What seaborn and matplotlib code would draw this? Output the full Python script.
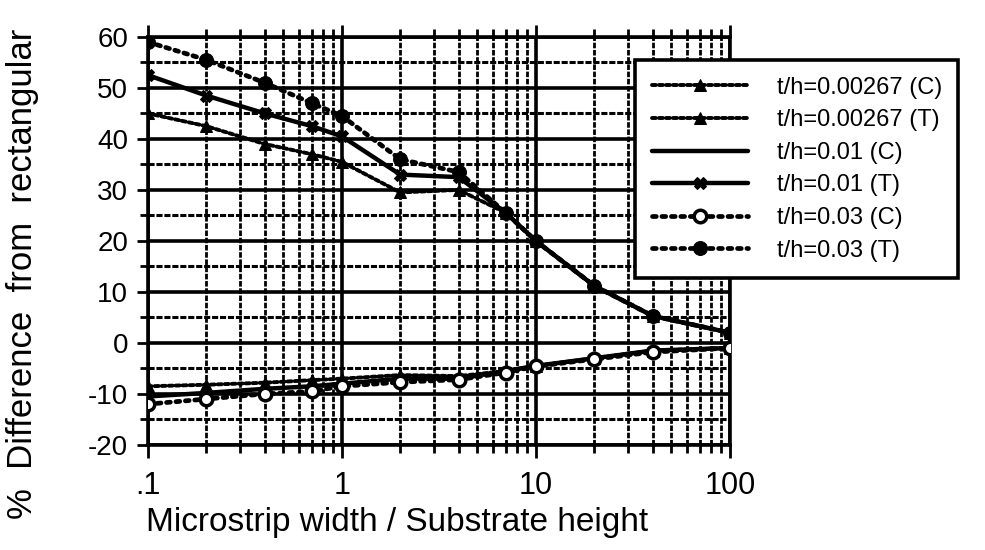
import matplotlib
matplotlib.use("Agg")
import matplotlib.pyplot as plt
import matplotlib.ticker as mticker
import seaborn as sns
import pandas as pd

# x positions (width / height ratio)
w_h = [0.1, 0.2, 0.4, 0.7, 1, 2, 4, 7, 10, 20, 40, 100]

# % difference from rectangular
th_00267_c = [-8.5, -8.2, -7.8, -7.3, -7.0, -6.3, -6.5, -5.5, -4.5, -3.0, -1.5, -1.0]
th_00267_t = [45.0, 42.5, 39.0, 37.0, 35.5, 29.5, 30.0, 25.5, 20.0, 11.2, 5.3, 2.0]
th_001_c = [-10.5, -9.8, -9.0, -8.5, -8.0, -7.0, -7.0, -5.5, -4.5, -3.0, -1.5, -1.0]
th_001_t = [52.5, 48.5, 45.0, 42.5, 40.5, 33.0, 32.5, 25.5, 20.0, 11.2, 5.3, 2.0]
th_003_c = [-12.0, -11.0, -10.0, -9.5, -8.5, -7.7, -7.2, -5.8, -4.6, -3.2, -1.8, -1.0]
th_003_t = [59.0, 55.5, 51.0, 47.0, 44.5, 36.0, 33.5, 25.5, 20.0, 11.2, 5.3, 2.0]

labels = ["t/h=0.00267 (C)", "t/h=0.00267 (T)", "t/h=0.01 (C)",
          "t/h=0.01 (T)", "t/h=0.03 (C)", "t/h=0.03 (T)"]
series = [th_00267_c, th_00267_t, th_001_c, th_001_t, th_003_c, th_003_t]

x_ticks = [0.1, 1, 10, 100]
x_ticklabels = [".1", "1", "10", "100"]
y_ticks = [-20, -10, 0, 10, 20, 30, 40, 50, 60]

sns.set_theme(style="white")
plt.rcParams["font.family"] = ["Liberation Sans", "DejaVu Sans"]
plt.rcParams["text.color"] = "black"
plt.rcParams["axes.labelcolor"] = "black"
plt.rcParams["xtick.color"] = "black"
plt.rcParams["ytick.color"] = "black"

dot_fine = (0, (1, 0.8))
dot_heavy = (0, (0.8, 1.2))
styles = [
    dict(ls=dot_fine, lw=2.8, marker="^", ms=9, mfc="black"),
    dict(ls=dot_fine, lw=2.8, marker="^", ms=9, mfc="black"),
    dict(ls="-", lw=3.2, marker=None),
    dict(ls="-", lw=3.2, marker="X", ms=9, mfc="black"),
    dict(ls=dot_heavy, lw=3.4, marker="o", ms=9, mfc="white", mew=2.5),
    dict(ls=dot_heavy, lw=3.4, marker="o", ms=10, mfc="black"),
]

fig = plt.figure(figsize=(9.85, 5.5), dpi=100)
ax = fig.add_axes([0.150, 0.191, 0.591, 0.742])

# heavy grid like the original chart paper
for yv in range(-20, 61, 5):
    if yv % 10 == 0:
        ax.axhline(yv, color="black", lw=2.6, zorder=1)
    else:
        ax.axhline(yv, color="black", lw=2.2, ls=(0, (2, 0.6)), zorder=1)
for dec in [0.1, 1, 10]:
    for m in range(2, 10):
        ax.axvline(dec * m, color="black", lw=2.0, ls=(0, (2, 0.6)), zorder=1)
for xv in x_ticks:
    ax.axvline(xv, color="black", lw=2.6, zorder=1)

for lab, vals, st in zip(labels, series, styles):
    df = pd.DataFrame({"x": w_h, "y": vals})
    sns.lineplot(data=df, x="x", y="y", ax=ax, color="black", label=lab,
                 estimator=None, sort=False, mec="black",
                 dash_capstyle="round", zorder=3, **st)

ax.set_xscale("log")
ax.set_xlim(0.1, 100)
ax.set_ylim(-20, 60)
ax.set_xticks(x_ticks)
ax.set_xticklabels(x_ticklabels, fontsize=22)
ax.xaxis.set_minor_locator(mticker.LogLocator(base=10, subs=range(2, 10)))
ax.xaxis.set_minor_formatter(mticker.NullFormatter())
ax.set_yticks(y_ticks)
ax.set_yticklabels([str(v) for v in y_ticks], fontsize=20)
ax.yaxis.set_minor_locator(mticker.MultipleLocator(5))
ax.tick_params(axis="both", which="both", direction="out", color="black",
               width=2, top=True, bottom=True, left=True, right=False)
ax.tick_params(axis="x", which="major", length=9, pad=10)
ax.tick_params(axis="x", which="minor", length=6)
ax.tick_params(axis="y", which="major", length=8, pad=6)
ax.tick_params(axis="y", which="minor", length=6)
for sp in ax.spines.values():
    sp.set_color("black")
    sp.set_linewidth(2.6)

ax.set_xlabel("Microstrip width / Substrate height", fontsize=24)
ax.xaxis.set_label_coords(0.428, -0.152)
ax.set_ylabel("%  Difference  from  rectangular", fontsize=25)
ax.yaxis.set_label_coords(-0.186, 0.42)

leg = ax.legend(loc="upper left", bbox_to_anchor=(635 / 985, 1 - 60 / 550),
                bbox_transform=fig.transFigure, fontsize=17, frameon=True,
                fancybox=False, handlelength=4.1, handletextpad=1.2,
                labelspacing=0.45, borderpad=0.7, borderaxespad=0)
leg.get_frame().set_edgecolor("black")
leg.get_frame().set_linewidth(2.6)
leg.get_frame().set_alpha(1)
leg.set_zorder(5)

fig.savefig("out.png", dpi=100)
